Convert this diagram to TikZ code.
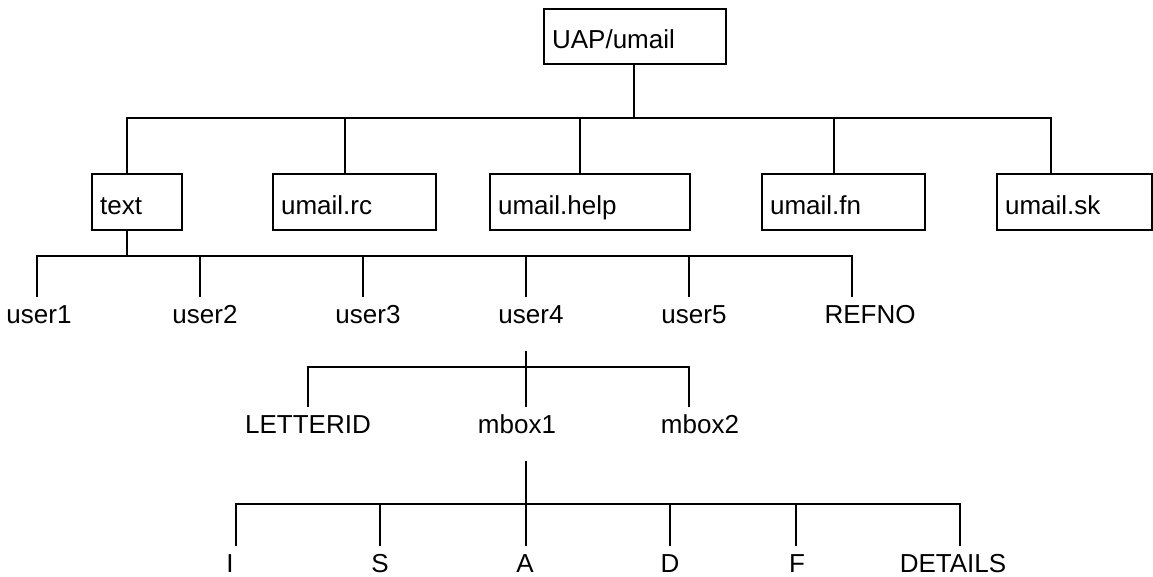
\documentclass[tikz,border=0pt]{standalone}
\usepackage{fontspec}
\setmainfont{Liberation Sans}
\begin{document}
\begin{tikzpicture}[x=1pt,y=-1pt,
  wire/.style={line width=2.2pt, line cap=rect},
  box/.style={draw, line width=2.2pt, font=\fontsize{26}{30}\selectfont, align=left,
    inner xsep=8pt, inner ysep=0pt, text height=24pt, text depth=0pt,
    minimum height=56pt, anchor=north west},
  lbl/.style={font=\fontsize{26}{30}\selectfont, inner xsep=0pt, inner ysep=8pt,
    text height=19pt, text depth=0pt, anchor=base}]
\useasboundingbox (0,0) rectangle (1153,576);
% boxes
\node[box, text width=166pt, minimum height=55pt] (root) at (543,8) {UAP/umail};
\node[box, text width=74pt] (text) at (91,173) {text};
\node[box, text width=147pt] (rc) at (272,173) {umail.rc};
\node[box, text width=184pt] (help) at (489,173) {umail.help};
\node[box, text width=147pt] (fn) at (761,173) {umail.fn};
\node[box, text width=139pt] (sk) at (996,173) {umail.sk};
% level 2 labels
\node[lbl] (u1) at (39,323) {user1};
\node[lbl] (u2) at (205,323) {user2};
\node[lbl] (u3) at (368,323) {user3};
\node[lbl] (u4) at (531,323) {user4};
\node[lbl] (u5) at (694,323) {user5};
\node[lbl] (ref) at (870,323) {REFNO};
% level 3 labels
\node[lbl] (lid) at (308,433) {LETTERID};
\node[lbl] (m1) at (517,433) {mbox1};
\node[lbl] (m2) at (700,433) {mbox2};
% level 4 labels
\node[lbl] (li) at (230,572) {I};
\node[lbl] (ls) at (380,572) {S};
\node[lbl] (la) at (525,572) {A};
\node[lbl] (ld) at (670,572) {D};
\node[lbl] (lf) at (797,572) {F};
\node[lbl] (ldet) at (953,572) {DETAILS};
% junction coordinates
\coordinate (j0) at (634,118);
\coordinate (b0a) at (127,118);
\coordinate (b0b) at (345,118);
\coordinate (b0c) at (580,118);
\coordinate (b0d) at (834,118);
\coordinate (b0e) at (1051,118);
\coordinate (b1a) at (37,256);
\coordinate (b1b) at (200,256);
\coordinate (b1c) at (363,256);
\coordinate (b1d) at (526,256);
\coordinate (b1e) at (689,256);
\coordinate (b1f) at (852,256);
\coordinate (j1) at (127,256);
\coordinate (b2a) at (308,367);
\coordinate (b2b) at (526,367);
\coordinate (b2c) at (689,367);
\coordinate (b3a) at (236,504);
\coordinate (b3b) at (380,504);
\coordinate (b3c) at (526,504);
\coordinate (b3d) at (670,504);
\coordinate (b3e) at (796,504);
\coordinate (b3f) at (960,504);
% level 1 connectors
\draw[wire] (j0 |- root.south) -- (j0);
\draw[wire] (b0a) -- (b0e);
\draw[wire] (b0a) -- (b0a |- text.north);
\draw[wire] (b0b) -- (b0b |- rc.north);
\draw[wire] (b0c) -- (b0c |- help.north);
\draw[wire] (b0d) -- (b0d |- fn.north);
\draw[wire] (b0e) -- (b0e |- sk.north);
% level 2 connectors
\draw[wire] (j1 |- text.south) -- (j1);
\draw[wire] (b1a) -- (b1f);
\draw[wire] (b1a) -- (b1a |- u1.north);
\draw[wire] (b1b) -- (b1b |- u2.north);
\draw[wire] (b1c) -- (b1c |- u3.north);
\draw[wire] (b1d) -- (b1d |- u4.north);
\draw[wire] (b1e) -- (b1e |- u5.north);
\draw[wire] (b1f) -- (b1f |- ref.north);
% level 3 connectors
\draw[wire, shorten <=21pt] (b2b |- u4.south) -- (b2b |- m1.north);
\draw[wire] (b2a) -- (b2c);
\draw[wire] (b2a) -- (b2a |- lid.north);
\draw[wire] (b2c) -- (b2c |- m2.north);
% level 4 connectors
\draw[wire, shorten <=21pt] (b3c |- m1.south) -- (b3c |- la.north);
\draw[wire] (b3a) -- (b3f);
\draw[wire] (b3a) -- (b3a |- li.north);
\draw[wire] (b3b) -- (b3b |- ls.north);
\draw[wire] (b3d) -- (b3d |- ld.north);
\draw[wire] (b3e) -- (b3e |- lf.north);
\draw[wire] (b3f) -- (b3f |- ldet.north);
\end{tikzpicture}
\end{document}
